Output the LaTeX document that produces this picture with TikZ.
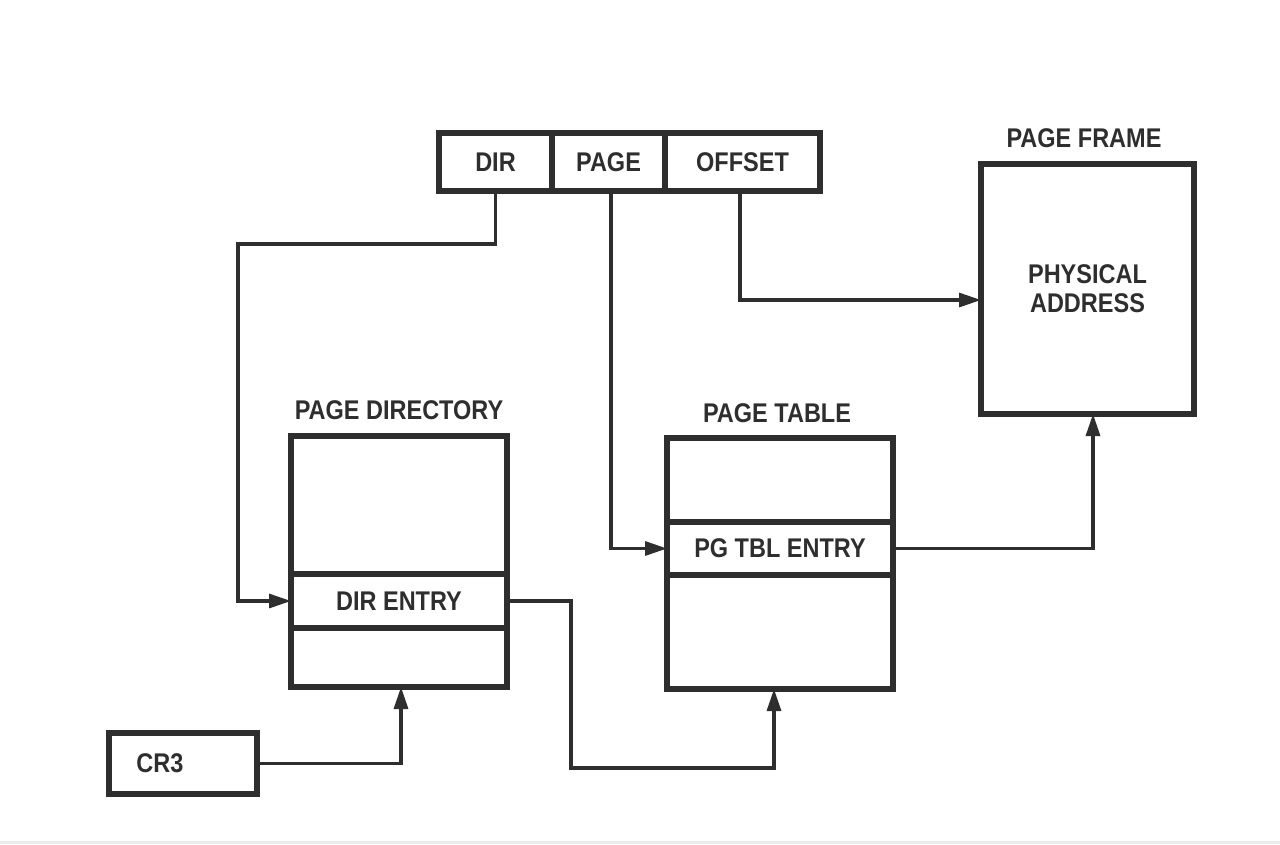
\documentclass[tikz,border=0pt]{standalone}
\usepackage{fontspec}
\setmainfont{Liberation Sans}
\usetikzlibrary{arrows.meta}
\definecolor{ink}{HTML}{2E2E2E}
\newcommand{\tallt}[1]{\scalebox{1}[1.15]{#1}}
\begin{document}
\begin{tikzpicture}[x=1pt,y=-1pt,
  box/.style={draw=ink,line width=5.5pt,rectangle,inner sep=0pt,outer sep=0pt,
    font=\fontsize{23.5}{29}\selectfont\bfseries,text=ink},
  lbl/.style={font=\fontsize{23.5}{29}\selectfont\bfseries,text=ink,inner sep=0pt},
  conn/.style={draw=ink,line width=3.2pt},
  arr/.style={conn,-{Triangle[length=22pt,width=14pt]}}]
\useasboundingbox (0,0) rectangle (1280,844);
\fill[white] (0,0) rectangle (1280,844);
\fill[black!8] (0,841) rectangle (1280,844);
% linear address register
\node[box,minimum width=113,minimum height=58] (dir) at (495.5,162) {\tallt{DIR}};
\node[box,minimum width=113,minimum height=58] (page) at (608.5,162) {\tallt{PAGE}};
\node[box,minimum width=155,minimum height=58] (offset) at (742.5,162) {\tallt{OFFSET}};
% page frame
\node[lbl] (pflbl) at (1084,138) {\tallt{PAGE FRAME}};
\node[box,minimum width=213,minimum height=250,align=center] (frame) at (1087.5,289) {\tallt{PHYSICAL}\\\tallt{ADDRESS}};
% page directory
\node[lbl] (pdlbl) at (399,410) {\tallt{PAGE DIRECTORY}};
\node[box,minimum width=216,minimum height=138] (pdtop) at (399,505) {};
\node[box,minimum width=216,minimum height=54] (pdentry) at (399,601) {\tallt{DIR ENTRY}};
\node[box,minimum width=216,minimum height=59] (pdbot) at (399,657.5) {};
% page table
\node[lbl] (ptlbl) at (777,413) {\tallt{PAGE TABLE}};
\node[box,minimum width=226,minimum height=84] (pttop) at (780,480) {};
\node[box,minimum width=226,minimum height=53] (ptentry) at (780,548.5) {\tallt{PG TBL ENTRY}};
\node[box,minimum width=226,minimum height=114] (ptbot) at (780,632) {};
% CR3
\node[box,minimum width=148,minimum height=61] (cr3) at (183,763.5) {};
\node[lbl] (cr3lbl) at (160,763) {\tallt{CR3}};
% connectors
\coordinate (dirbend) at (238,244);
\draw[arr] (dir.south) -- (dir.south |- dirbend) -- (dirbend) |- (pdentry.west);
\draw[arr] ([xshift=2.5pt]page.south) |- (ptentry.west);
\draw[arr] ([xshift=-2.5pt]offset.south) |- ([yshift=-11pt]frame.west);
\draw[arr] (ptentry.east) -| ([xshift=5.5pt]frame.south);
\coordinate (ebend) at (571,768);
\draw[arr] (pdentry.east) -| (ebend) -| ([xshift=-6pt]ptbot.south);
\draw[arr] (cr3.east) -| ([xshift=2pt]pdbot.south);
\end{tikzpicture}
\end{document}
